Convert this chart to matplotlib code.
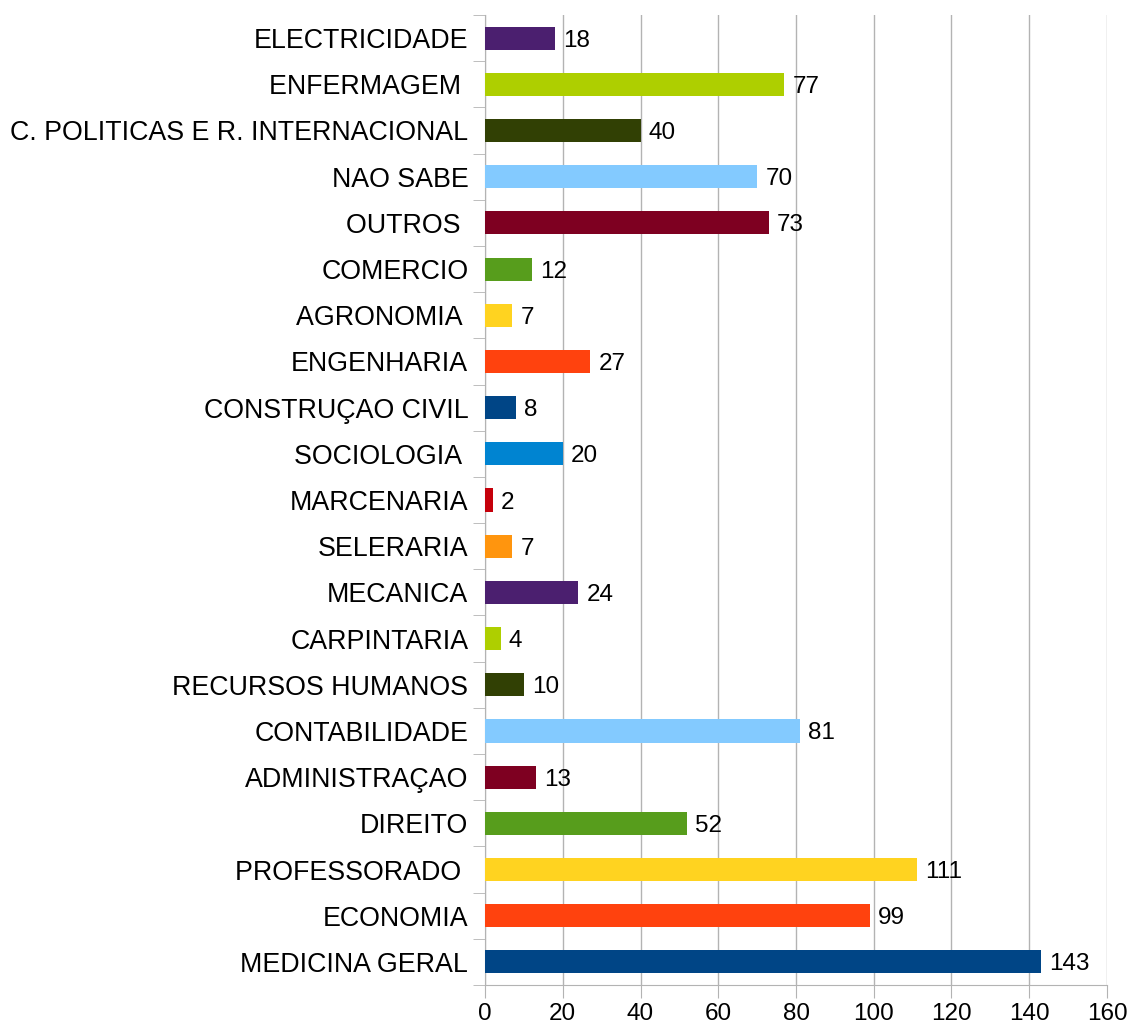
import numpy as np
import matplotlib.pyplot as plt

# %% Data (bottom to top as drawn)
categories = ['MEDICINA GERAL', 'ECONOMIA', 'PROFESSORADO ', 'DIREITO',
              'ADMINISTRAÇAO', 'CONTABILIDADE', 'RECURSOS HUMANOS', 'CARPINTARIA',
              'MECANICA', 'SELERARIA', 'MARCENARIA', 'SOCIOLOGIA ',
              'CONSTRUÇAO CIVIL', 'ENGENHARIA', 'AGRONOMIA ', 'COMERCIO',
              'OUTROS ', 'NAO SABE', 'C. POLITICAS E R. INTERNACIONAL',
              'ENFERMAGEM ', 'ELECTRICIDADE']
values = [143, 99, 111, 52, 13, 81, 10, 4, 24, 7, 2, 20, 8, 27, 7, 12, 73, 70, 40, 77, 18]
palette = ['#004586', '#ff420e', '#ffd320', '#579d1c', '#7e0021', '#83caff',
           '#314004', '#aecf00', '#4b1f6f', '#ff950e', '#c5000b', '#0084d1']
colors = [palette[i % len(palette)] for i in range(len(values))]
xticks = [0, 20, 40, 60, 80, 100, 120, 140, 160]

# %% Plot
plt.rcParams['font.family'] = ['Liberation Sans', 'DejaVu Sans']
fig = plt.figure(figsize=(11.29, 10.28), dpi=100)
ax = fig.add_axes([0.4296, 0.0418, 0.5509, 0.9436])

y = np.arange(len(values))
bars = ax.barh(y, values, height=0.5, color=colors, zorder=3)
labels = ax.bar_label(bars, padding=6, fontsize=17.5, color='black')
for t in labels:
    t.set_verticalalignment('center_baseline')

ax.set_xlim(0, 160)
ax.set_ylim(-0.5, len(values) - 0.5)
ax.set_xticks(xticks)
ax.set_yticks(y)
ax.set_yticklabels(categories)
ax.set_yticks(np.arange(-0.5, len(values), 1), minor=True)

ax.grid(True, axis='x', color='#b3b3b3', linewidth=1, zorder=0)
for side in ['top', 'right']:
    ax.spines[side].set_visible(False)
for side in ['left', 'bottom']:
    ax.spines[side].set_color('#b3b3b3')

ax.tick_params(axis='y', which='major', length=0, pad=12, labelsize=19.3)
ax.tick_params(axis='y', which='minor', length=9, color='#b3b3b3')
ax.tick_params(axis='x', length=9, color='#b3b3b3', labelsize=17.5, pad=4)

fig.savefig('out.png')
